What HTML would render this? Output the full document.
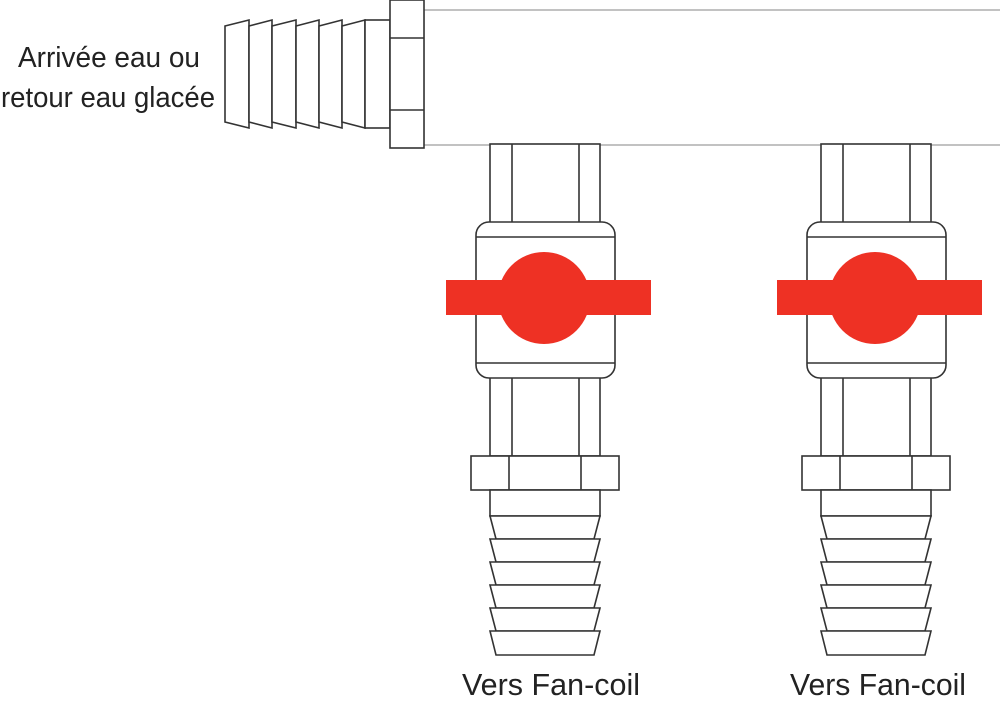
<!DOCTYPE html>
<html><head><meta charset="utf-8"><style>html,body{margin:0;padding:0;background:#fff}svg{display:block}</style></head>
<body>
<svg width="1000" height="704" viewBox="0 0 1000 704" xmlns="http://www.w3.org/2000/svg">
<defs>
<g id="valve" fill="#fff" stroke="#333" stroke-width="1.6">
  <rect x="490" y="144" width="110" height="80"/>
  <line x1="512" y1="144" x2="512" y2="224"/>
  <line x1="579" y1="144" x2="579" y2="224"/>
  <rect x="490" y="376" width="110" height="80"/>
  <line x1="512" y1="376" x2="512" y2="456"/>
  <line x1="579" y1="376" x2="579" y2="456"/>
  <rect x="476" y="222" width="139" height="156" rx="13"/>
  <line x1="476" y1="237" x2="615" y2="237"/>
  <line x1="476" y1="363" x2="615" y2="363"/>
  <circle cx="544" cy="298" r="46" fill="#ee3124" stroke="none"/>
  <rect x="446" y="280" width="205" height="35" fill="#ee3124" stroke="none"/>
  <rect x="471" y="456" width="148" height="34"/>
  <line x1="509" y1="456" x2="509" y2="490"/>
  <line x1="581" y1="456" x2="581" y2="490"/>
  <rect x="490" y="490" width="110" height="26"/>
  <polygon points="490,516 600,516 594,539 496,539"/>
  <polygon points="490,539 600,539 594,562 496,562"/>
  <polygon points="490,562 600,562 594,585 496,585"/>
  <polygon points="490,585 600,585 594,608 496,608"/>
  <polygon points="490,608 600,608 594,631 496,631"/>
  <polygon points="490,631 600,631 594,655 496,655"/>
</g>
</defs>
<rect x="424" y="10" width="590" height="135" fill="#fff" stroke="#999" stroke-width="1.2"/>
<g fill="#fff" stroke="#333" stroke-width="1.6">
  <polygon points="225,26 249,20 249,128 225,122"/>
  <polygon points="249,26 272,20 272,128 249,122"/>
  <polygon points="272,26 296,20 296,128 272,122"/>
  <polygon points="296,26 319,20 319,128 296,122"/>
  <polygon points="319,26 342,20 342,128 319,122"/>
  <polygon points="342,26 365,20 365,128 342,122"/>
  <rect x="365" y="20" width="25" height="108"/>
  <rect x="390" y="0" width="34" height="148"/>
  <line x1="390" y1="38" x2="424" y2="38"/>
  <line x1="390" y1="110" x2="424" y2="110"/>
</g>
<use href="#valve"/>
<use href="#valve" transform="translate(331,0)"/>
<g font-family="Liberation Sans, sans-serif" fill="#222">
  <text x="18" y="67" font-size="29" textLength="182" lengthAdjust="spacingAndGlyphs">Arrivée eau ou</text>
  <text x="1" y="107" font-size="29" textLength="214" lengthAdjust="spacingAndGlyphs">retour eau glacée</text>
  <text x="462" y="695" font-size="31" textLength="178" lengthAdjust="spacingAndGlyphs">Vers Fan-coil</text>
  <text x="790" y="695" font-size="31" textLength="176" lengthAdjust="spacingAndGlyphs">Vers Fan-coil</text>
</g>
</svg>
</body></html>
